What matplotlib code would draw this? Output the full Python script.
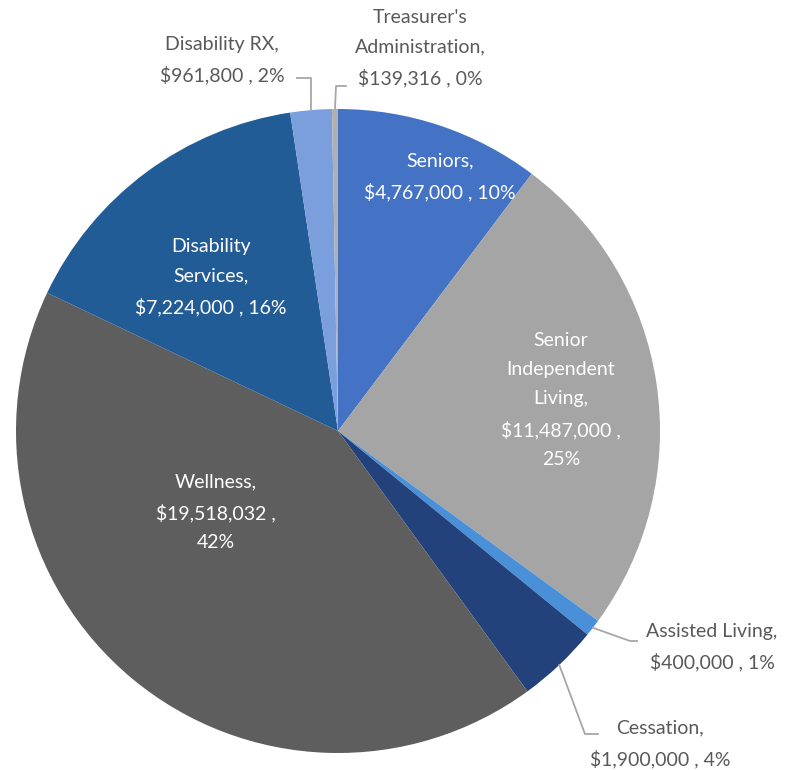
import matplotlib
matplotlib.use("Agg")
import matplotlib.pyplot as plt
import numpy as np

categories = ["Seniors", "Senior Independent Living", "Assisted Living", "Cessation",
              "Wellness", "Disability Services", "Disability RX", "Treasurer's Administration"]
values = [4767000, 11487000, 400000, 1900000, 19518032, 7224000, 961800, 139316]
labels = ["Seniors,\n$4,767,000 , 10%",
          "Senior\nIndependent\nLiving,\n$11,487,000 ,\n25%",
          "Assisted Living,\n$400,000 , 1%",
          "Cessation,\n$1,900,000 , 4%",
          "Wellness,\n$19,518,032 ,\n42%",
          "Disability\nServices,\n$7,224,000 , 16%",
          "Disability RX,\n$961,800 , 2%",
          "Treasurer's\nAdministration,\n$139,316 , 0%"]
colors = ["#4472c4", "#a5a5a5", "#4a90d9", "#23427c", "#5e5e5e", "#225c96", "#7b9fdc", "#b0b0b0"]
inside = [True, True, False, False, True, True, False, False]
# label centre positions in pixel coords of the reference image
label_px = [(440, 177), (561, 400), (712, 647), (660, 744), (216, 512), (211, 277), (222, 60), (420, 48)]

W, H = 787, 770
cx, cy, R = 338, 431, 322

fig = plt.figure(figsize=(W / 100, H / 100), dpi=100)
ax = fig.add_axes([(cx - R) / W, (H - cy - R) / H, 2 * R / W, 2 * R / H])

wedges, _ = ax.pie(values, colors=colors, startangle=90, counterclock=False, radius=1,
                   wedgeprops=dict(linewidth=0))
ax.set_xlim(-1, 1)
ax.set_ylim(-1, 1)
ax.set_aspect("equal")
ax.axis("off")

font = "Lato"
fs = 14

def to_data(px, py):
    return (px - cx) / R, (cy - py) / R

for i, (w, lab) in enumerate(zip(wedges, labels)):
    tx, ty = to_data(*label_px[i])
    col = "white" if inside[i] else "#595959"
    ax.text(tx, ty, lab, ha="center", va="center", color=col, fontsize=fs,
            family=font, linespacing=1.85, clip_on=False)

def mid_angle(w):
    return np.deg2rad((w.theta1 + w.theta2) / 2)

lc = "#a6a6a6"
leaders = {6: [(311, 78), (297, 78)], 7: [(336, 86), (346, 86)],
           2: [(630, 641), (637, 641)], 3: [(585, 734), (598, 734)]}
for idx, pts in leaders.items():
    a = mid_angle(wedges[idx])
    sx, sy = np.cos(a), np.sin(a)
    p1 = to_data(*pts[0]); p2 = to_data(*pts[1])
    if idx == 6:
        xs, ys = [sx, sx, p2[0]], [sy, p1[1], p2[1]]
    else:
        xs, ys = [sx, p1[0], p2[0]], [sy, p1[1], p2[1]]
    ax.plot(xs, ys, color=lc, lw=1.3, clip_on=False)

fig.savefig("out.png", dpi=100, facecolor="white")
